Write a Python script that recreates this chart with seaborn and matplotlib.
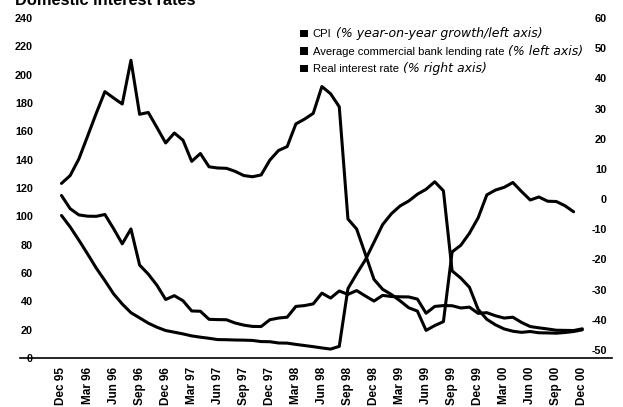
import numpy as np
import pandas as pd
import matplotlib
matplotlib.use("Agg")
import matplotlib.pyplot as plt
import seaborn as sns
from matplotlib.offsetbox import AnchoredOffsetbox, HPacker, VPacker, TextArea, DrawingArea
from matplotlib.patches import Rectangle

# Quarterly tick labels (monthly data, Dec 95 .. Dec 00)
tick_labels = ["Dec 95", "Mar 96", "Jun 96", "Sep 96", "Dec 96", "Mar 97", "Jun 97",
               "Sep 97", "Dec 97", "Mar 98", "Jun 98", "Sep 98", "Dec 98", "Mar 99",
               "Jun 99", "Sep 99", "Dec 99", "Mar 00", "Jun 00", "Sep 00", "Dec 00"]

# CPI, % year-on-year growth (left axis)
cpi = [100.6, 92.5, 83.2, 73.5, 63.5, 54.6, 45.3, 38.1, 32.0, 28.3,
       24.6, 21.7, 19.4, 18.2, 17.0, 15.6, 14.7, 13.9, 13.0, 12.9,
       12.7, 12.6, 12.4, 11.6, 11.5, 10.6, 10.5, 9.6, 8.8, 8.0,
       7.1, 6.3, 8.2, 49.0, 59.4, 69.2, 81.7, 94.2, 101.8, 107.3,
       110.8, 115.6, 119.1, 124.4, 118.0, 61.5, 56.4, 49.9, 34.3, 27.3,
       23.4, 20.5, 18.9, 18.1, 18.7, 17.8, 17.7, 17.5, 18.0, 18.7,
       19.9]

# Average commercial bank lending rate, % (left axis)
lending = [114.7, 105.4, 101.0, 100.1, 100.0, 101.3, 91.3, 80.6, 91.1, 65.6,
           59.2, 51.3, 41.3, 44.0, 40.4, 33.2, 33.0, 27.3, 27.1, 27.0,
           24.7, 23.2, 22.3, 22.2, 27.0, 28.2, 28.8, 36.4, 37.0, 38.2,
           45.8, 42.3, 47.3, 44.9, 47.6, 43.8, 40.2, 44.2, 43.4, 43.2,
           43.1, 41.6, 31.6, 36.4, 37.0, 36.9, 35.3, 35.9, 31.5, 32.0,
           29.8, 28.2, 28.8, 25.1, 22.2, 21.3, 20.5, 19.6, 19.5, 19.4,
           20.6]

# Real interest rate, % (right axis); no value for the last month
real_rate = [5.2, 7.8, 13.3, 20.8, 28.4, 35.6, 33.5, 31.5, 46.0, 28.1,
             28.7, 23.7, 18.6, 21.9, 19.5, 12.5, 15.1, 10.7, 10.3, 10.2,
             9.2, 7.8, 7.4, 8.0, 12.9, 16.1, 17.4, 24.9, 26.5, 28.4,
             37.3, 34.9, 30.6, -6.6, -9.9, -18.2, -26.6, -29.9, -31.6, -33.7,
             -36.0, -37.1, -43.5, -41.9, -40.6, -17.5, -15.3, -11.3, -6.2, 1.4,
             3.0, 3.9, 5.5, 2.5, -0.3, 0.7, -0.7, -0.8, -2.2, -4.2,
             np.nan]

legend_entries = [("CPI", "(% year-on-year growth/left axis)"),
                  ("Average commercial bank lending rate", "(% left axis)"),
                  ("Real interest rate", "(% right axis)")]

title = "Domestic interest rates"

df = pd.DataFrame({"month": np.arange(len(cpi)), "cpi": cpi,
                   "lending": lending, "real": real_rate})

sns.set_theme(style="white")
plt.rcParams["font.family"] = ["Liberation Sans", "DejaVu Sans"]
plt.rcParams["axes.unicode_minus"] = False

W, H = 623, 407
fig = plt.figure(figsize=(W / 100, H / 100), dpi=100)
fig.patch.set_facecolor("white")
ax_bottom, ax_top = 358, 18
ax = fig.add_axes([20 / W, (H - ax_bottom) / H, (612 - 20) / W, (ax_bottom - ax_top) / H])
ax2 = ax.twinx()

lw = 2.2
sns.lineplot(data=df, x="month", y="lending", ax=ax, color="black", lw=lw)
sns.lineplot(data=df, x="month", y="cpi", ax=ax, color="black", lw=lw)
sns.lineplot(data=df, x="month", y="real", ax=ax2, color="black", lw=lw)

for a in (ax, ax2):
    a.set_xlabel("")
    a.set_ylabel("")
    a.grid(False)
    for s in a.spines.values():
        s.set_visible(False)
ax.spines["bottom"].set_visible(True)
ax.spines["bottom"].set_color("black")
ax.spines["bottom"].set_linewidth(1.2)

ax.set_xlim(-4.78, 63.42)
ax.set_ylim(0, 240)
ax2.set_ylim(-52.65, 60)

ax.set_xticks(range(0, len(cpi), 3))
ax.set_xticklabels(tick_labels, rotation=90, fontsize=8.5, fontweight="bold")
ax.set_yticks(range(0, 241, 20))
ax.set_yticklabels([str(v) for v in range(0, 241, 20)], fontsize=7.8, fontweight="bold")
ax2.set_yticks(range(-50, 61, 10))
ax2.set_yticklabels([str(v) for v in range(-50, 61, 10)], fontsize=7.8, fontweight="bold")
for t in ax2.get_yticklabels():
    t.set_horizontalalignment("right")

ax.tick_params(axis="x", length=0, pad=6.5, colors="black")
ax.tick_params(axis="y", length=0, pad=-13 * 0.72, colors="black")
ax2.tick_params(axis="y", length=0, pad=-5 * 0.72, colors="black")


def legend_row(name, note):
    square = DrawingArea(5.5, 5.5, 0, 0)
    square.add_artist(Rectangle((0, 0), 5.5, 5.5, fc="black", ec="none"))
    plain = TextArea(name, textprops=dict(fontsize=8.1, color="black"))
    ital = TextArea(note, textprops=dict(fontsize=9.0, color="black", style="italic",
                                         family=["DejaVu Sans"]))
    text = HPacker(children=[plain, ital], sep=3, pad=0, align="baseline")
    return HPacker(children=[square, text], sep=3.6, pad=0, align="center")


rows = [legend_row(n, t) for n, t in legend_entries]
legend_box = AnchoredOffsetbox(loc="upper left",
                               child=VPacker(children=rows, sep=3.3, pad=0, align="left"),
                               pad=0, borderpad=0, frameon=False,
                               bbox_to_anchor=(300 / W, 1 - 27 / H),
                               bbox_transform=fig.transFigure)
ax2.add_artist(legend_box)

fig.text(15 / W, 1 - 5 / H, title, fontsize=11.8, fontweight="bold",
         ha="left", va="baseline", color="black")

fig.savefig("out.png", dpi=100, facecolor="white")
